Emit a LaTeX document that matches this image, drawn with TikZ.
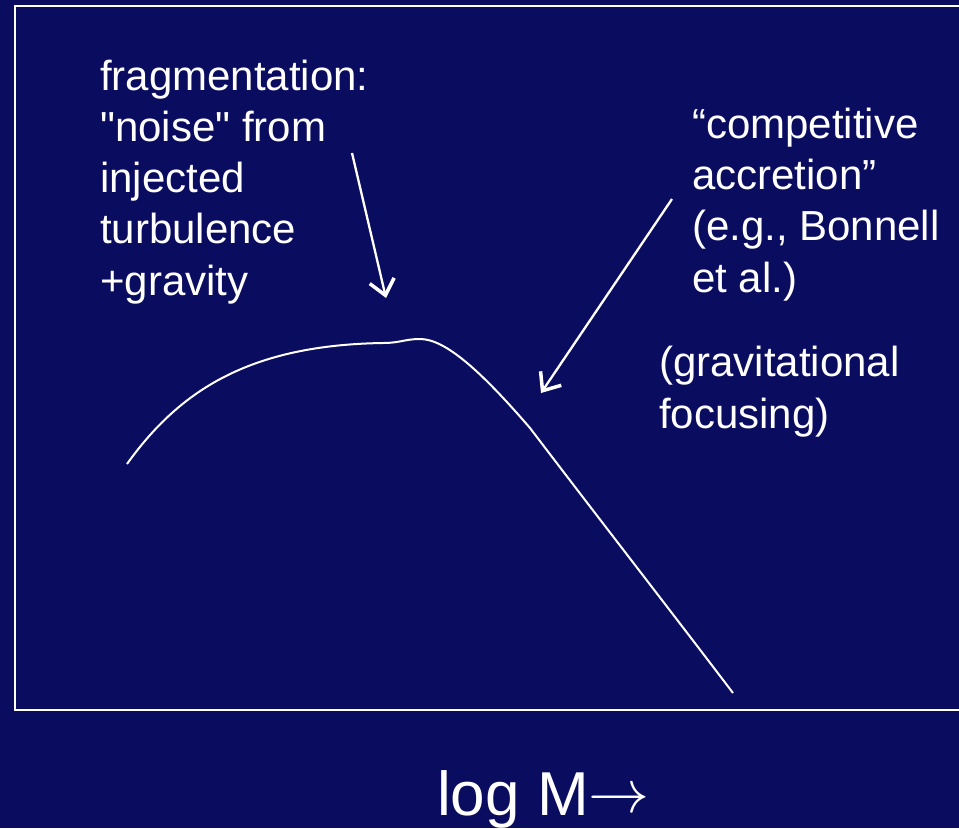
\documentclass[tikz,border=0pt]{standalone}
\usepackage{fontspec}
\newfontfamily\labelfont{Liberation Sans}
\usetikzlibrary{arrows.meta}
\definecolor{navy}{HTML}{0A0C5F}
\begin{document}
\begin{tikzpicture}[x=1pt,y=-1pt,
  lbl/.style={text=white,font=\labelfont\fontsize{42}{51.25}\selectfont,align=left,anchor=base west,inner sep=0pt},
  pointer/.style={draw=white,line width=2.3pt,-{Straight Barb[length=15pt,width=25pt,line width=3.5pt]}},
  curveline/.style={draw=white,line width=2pt}]
\useasboundingbox (0,0) rectangle (959,828);
\fill[navy] (0,0) rectangle (959,828);
\draw[white,line width=2.2pt] (15,6) rectangle (1000,710);
\node[lbl] (frag) at (100,295) {fragmentation:\\"noise" from\\injected\\turbulence\\+gravity};
\node[lbl] (comp) at (692,292) {“competitive\\accretion”\\(e.g., Bonnell\\et al.)};
\node[lbl] (grav) at (659,428) {(gravitational\\focusing)};
\node[text=white,font=\labelfont\fontsize{62}{70}\selectfont,anchor=base west,inner sep=0pt] (logm) at (437,815) {log M\raisebox{3pt}{\scalebox{2.45}{$\rightarrow$}}};
\coordinate (a1s) at (352,153);
\coordinate (a1e) at (386,298);
\coordinate (a2s) at (672,199);
\coordinate (a2e) at (541,393);
\draw[pointer] (a1s) -- (a1e);
\draw[pointer] (a2s) -- (a2e);
\draw[curveline] (127,464) .. controls (180,390) and (250,345) .. (383,343)
  .. controls (400,343) and (405,339) .. (420,339)
  .. controls (445,339) and (480,370) .. (530,428)
  .. controls (600,520) and (670,610) .. (733,693);
\end{tikzpicture}
\end{document}
